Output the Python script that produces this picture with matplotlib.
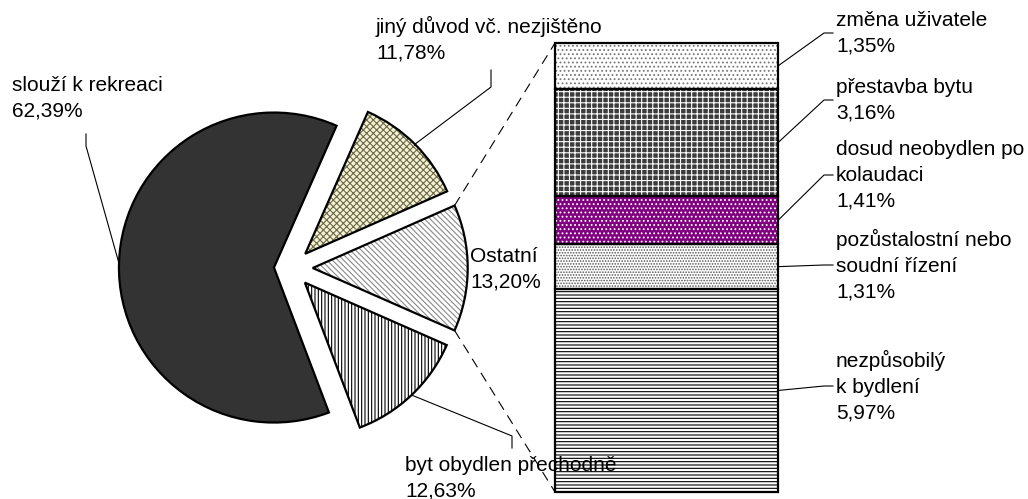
import numpy as np
import matplotlib.pyplot as plt

plt.rcParams['font.family'] = ['Liberation Sans', 'DejaVu Sans']
plt.rcParams['hatch.linewidth'] = 0.8

# pie slices, counter-clockwise starting from the right ("Ostatní" is split into the bar)
pie_labels = ['Ostatní', 'jiný důvod vč. nezjištěno', 'slouží k rekreaci', 'byt obydlen přechodně']
pie_values = [13.20, 11.78, 62.39, 12.63]

# bar segments, bottom to top
bar_labels = ['nezpůsobilý\nk bydlení', 'pozůstalostní nebo\nsoudní řízení',
              'dosud neobydlen po\nkolaudaci', 'přestavba bytu', 'změna uživatele']
bar_values = [5.97, 1.31, 1.41, 3.16, 1.35]


def pct(v):
    return f"{v:.2f}".replace('.', ',') + '%'


# styles
pie_face = ['white', '#F3F1DA', '#333333', 'white']
pie_hatch = ['\\\\\\\\\\\\', 'xxxxx', None, '|||||']
pie_hcol = ['#8a8a8a', '#6e6a40', '#333333', 'black']
explode_frac = [0.14, 0.13, 0.11, 0.13]

bar_face = ['white', 'white', '#800080', '#3c3c3c', 'white']
bar_hatch = ['-----', '......', '....', '+++', '....']
bar_hcol = ['black', '#555555', 'white', 'white', '#777777']

W, H = 1028, 499
fig = plt.figure(figsize=(W / 100, H / 100), dpi=100)
fig.patch.set_facecolor('white')

# --- bar of "Ostatní" ---
bx0, by0, bw, bh = 555, H - 492, 223, 449
axb = fig.add_axes([bx0 / W, by0 / H, bw / W, bh / H])
total = sum(bar_values)
bottoms = np.concatenate([[0], np.cumsum(bar_values)[:-1]])
bars = axb.bar(0, bar_values, bottom=bottoms, width=1, color=bar_face, linewidth=0)
for b, h, hc in zip(bars, bar_hatch, bar_hcol):
    b.set_hatch(h)
    b.set_edgecolor(hc)
axb.bar(0, bar_values, bottom=bottoms, width=1, fill=False, edgecolor='black',
        linewidth=1.6, clip_on=False)
axb.set_xlim(-0.5, 0.5)
axb.set_ylim(0, total)
axb.axis('off')

# --- main axes in pixel units (y up) ---
ax = fig.add_axes([0, 0, 1, 1])
ax.set_facecolor('none')

cx, cy, R = 291, H - 268, 155
explode = [e * R for e in explode_frac]
start = -pie_values[0] / sum(pie_values) * 180
wedges, _ = ax.pie(pie_values, explode=explode, startangle=start, radius=R,
                   center=(cx, cy), colors=pie_face, wedgeprops=dict(linewidth=0))
for w, h, hc in zip(wedges, pie_hatch, pie_hcol):
    if h:
        w.set_hatch(h)
        w.set_edgecolor(hc)
ax.pie(pie_values, explode=explode, startangle=start, radius=R, center=(cx, cy),
       wedgeprops=dict(fill=False, edgecolor='black', linewidth=1.6))

ax.set_xlim(0, W)
ax.set_ylim(0, H)
ax.set_aspect('auto')
ax.axis('off')


def arc_point(w, ang):
    a = np.radians(ang)
    return w.center[0] + w.r * np.cos(a), w.center[1] + w.r * np.sin(a)


def to_main(x, y):
    return ax.transData.inverted().transform(axb.transData.transform((x, y)))


fs = 15
lsp = 1.45

# dashed connectors from "Ostatní" to the bar
ost = wedges[0]
for ang, yb in [(ost.theta2, total), (ost.theta1, 0)]:
    p = arc_point(ost, ang)
    q = to_main(-0.5, yb)
    ax.plot([p[0], q[0]], [p[1], q[1]], color='black', lw=0.8,
            linestyle=(0, (9, 6)))

# pie labels
ax.text(470, H - 269, f"{pie_labels[0]}\n{pct(pie_values[0])}", fontsize=fs,
        va='center', ha='left', linespacing=lsp)

mid = lambda w: (w.theta1 + w.theta2) / 2
# jiný důvod
p = arc_point(wedges[1], mid(wedges[1]))
ax.plot([p[0], 491, 491], [p[1], H - 87, H - 70], color='black', lw=0.8)
ax.text(376, H - 39, f"{pie_labels[1]}\n{pct(pie_values[1])}", fontsize=fs,
        va='center', ha='left', linespacing=lsp)
# slouží k rekreaci
p = arc_point(wedges[2], mid(wedges[2]))
ax.plot([p[0], 86, 86], [p[1], H - 146, H - 134], color='black', lw=0.8)
ax.text(12, H - 98, f"{pie_labels[2]}\n{pct(pie_values[2])}", fontsize=fs,
        va='center', ha='left', linespacing=lsp)
# byt obydlen přechodně
p = arc_point(wedges[3], mid(wedges[3]))
ax.plot([p[0], 512, 512], [p[1], H - 436, H - 448], color='black', lw=0.8)
ax.text(405, H - 478, f"{pie_labels[3]}\n{pct(pie_values[3])}", fontsize=fs,
        va='center', ha='left', linespacing=lsp, zorder=5)

# bar labels
bar_label_y = [386, 265, 175, 100, 33]
tx = 836
for lab, v, b0, ly in zip(bar_labels, bar_values, bottoms, bar_label_y):
    p = to_main(0.5, b0 + v / 2)
    ty = H - ly
    ax.plot([p[0], tx - 12, tx - 3], [p[1], ty, ty], color='black', lw=0.8)
    ax.text(tx, ty, f"{lab}\n{pct(v)}", fontsize=fs, va='center', ha='left',
            linespacing=lsp)

fig.savefig('out.png', dpi=100)
